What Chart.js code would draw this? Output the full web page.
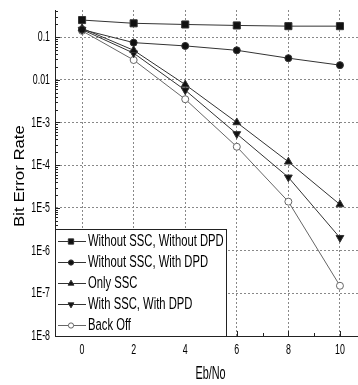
<!DOCTYPE html>
<html>
<head>
<meta charset="utf-8">
<script src="https://cdn.jsdelivr.net/npm/chart.js@4/dist/chart.umd.min.js"></script>
<style>
  html, body { margin: 0; padding: 0; background: #fff; }
  #ber-chart { display: block; }
</style>
</head>
<body>
<canvas id="ber-chart" width="358" height="385"></canvas>
<script>
// Eb/No points
var xValues = [0, 2, 4, 6, 8, 10];

// BER per configuration
var noSscNoDpd = [0.25, 0.21, 0.197, 0.187, 0.18, 0.18];
var noSscWithDpd = [0.15, 0.074, 0.062, 0.049, 0.032, 0.022];
var onlySsc = [0.16, 0.049, 0.0077, 0.001, 0.00012, 0.000012];
var sscWithDpd = [0.15, 0.042, 0.0057, 0.00054, 0.000052, 0.000002];
var backOff = [0.14, 0.029, 0.0035, 0.00027, 0.000014, 0.00000015];

var seriesNames = [
    "Without SSC, Without DPD",
    "Without SSC, With DPD",
    "Only SSC",
    "With SSC, With DPD",
    "Back Off"
];

var xTicks = [0, 2, 4, 6, 8, 10];
var xTickLabels = ["0", "2", "4", "6", "8", "10"];
var yTicks = [1e-8, 1e-7, 1e-6, 1e-5, 1e-4, 1e-3, 0.01, 0.1];
var yTickLabels = ["1E-8", "1E-7", "1E-6", "1E-5", "1E-4", "1E-3", "0.01", "0.1"];
var xTitle = "Eb/No";
var yTitle = "Bit Error Rate";

var baseFont = '"Liberation Sans", Arial, sans-serif';

// the original uses a narrow face, so squeeze Liberation Sans sideways
function drawText(ctx, text, x, y, align, size, sx, sy, angle) {
    ctx.save();
    ctx.translate(x, y);
    if (angle) ctx.rotate(angle);
    ctx.scale(sx, sy);
    ctx.font = size + 'px ' + baseFont;
    ctx.textAlign = align;
    ctx.textBaseline = 'middle';
    ctx.fillText(text, 0, 0);
    ctx.restore();
}

function toPoints(ys) {
    return xValues.map(function (x, i) { return { x: x, y: ys[i] }; });
}

function makeSeries(label, ys, style, rotation, radius, fill, stroke) {
    return {
        label: label,
        data: toPoints(ys),
        borderColor: stroke,
        borderWidth: 1,
        pointStyle: style,
        rotation: rotation,
        pointRadius: radius,
        pointBackgroundColor: fill,
        pointBorderColor: stroke,
        pointBorderWidth: 1,
        tension: 0
    };
}

// little tick marks pointing into the plot, majors and log minors
var innerTicks = {
    id: 'innerTicks',
    afterDatasetsDraw: function (chart) {
        var ctx = chart.ctx;
        var xs = chart.scales.x, ys = chart.scales.y;
        var area = chart.chartArea;
        ctx.save();
        ctx.strokeStyle = '#222';
        ctx.lineWidth = 1;
        ctx.beginPath();
        yTicks.forEach(function (d) {
            var py = Math.round(ys.getPixelForValue(d)) + 0.5;
            ctx.moveTo(area.left, py);
            ctx.lineTo(area.left + 5, py);
            for (var k = 2; k <= 9; k++) {
                var v = k * d;
                if (v > ys.max) break;
                var my = Math.round(ys.getPixelForValue(v)) + 0.5;
                ctx.moveTo(area.left, my);
                ctx.lineTo(area.left + 3, my);
            }
        });
        xTicks.forEach(function (t, i) {
            var px = Math.round(xs.getPixelForValue(t)) + 0.5;
            ctx.moveTo(px, area.bottom);
            ctx.lineTo(px, area.bottom - 5);
            if (i < xTicks.length - 1) {
                var mx = Math.round(xs.getPixelForValue((t + xTicks[i + 1]) / 2)) + 0.5;
                ctx.moveTo(mx, area.bottom);
                ctx.lineTo(mx, area.bottom - 3);
            }
        });
        ctx.stroke();
        ctx.restore();
    }
};

// tick labels and axis titles, drawn narrow like the source
var axisText = {
    id: 'axisText',
    afterDraw: function (chart) {
        var ctx = chart.ctx;
        var xs = chart.scales.x, ys = chart.scales.y;
        var area = chart.chartArea;
        ctx.save();
        ctx.fillStyle = '#000';
        yTicks.forEach(function (v, i) {
            drawText(ctx, yTickLabels[i], area.left - 5, ys.getPixelForValue(v), 'right', 13, 0.68, 1.15);
        });
        xTicks.forEach(function (v, i) {
            drawText(ctx, xTickLabels[i], xs.getPixelForValue(v), area.bottom + 14, 'center', 13, 0.68, 1.15);
        });
        drawText(ctx, xTitle, (area.left + area.right) / 2 + 4, area.bottom + 38, 'center', 16, 0.68, 1.1);
        drawText(ctx, yTitle, 20, (area.top + area.bottom) / 2 + 3, 'center', 15, 1.12, 1, -Math.PI / 2);
        ctx.restore();
    }
};

// boxed legend sitting in the lower left corner of the plot
var boxLegend = {
    id: 'boxLegend',
    afterDraw: function (chart) {
        var ctx = chart.ctx;
        var area = chart.chartArea;
        var w = 172, h = 107;
        var left = area.left, top = area.bottom - h;
        ctx.save();
        ctx.fillStyle = '#fff';
        ctx.fillRect(left, top, w, h);
        ctx.strokeStyle = '#222';
        ctx.lineWidth = 1;
        ctx.strokeRect(left + 0.5, top + 0.5, w - 1, h);
        chart.data.datasets.forEach(function (ds, i) {
            var y = Math.round(top + 12 + i * 21) + 0.5;
            ctx.strokeStyle = ds.borderColor;
            ctx.beginPath();
            ctx.moveTo(left + 3, y);
            ctx.lineTo(left + 31, y);
            ctx.stroke();
            ctx.fillStyle = ds.pointBackgroundColor;
            ctx.strokeStyle = ds.pointBorderColor;
            Chart.helpers.drawPoint(ctx, {
                pointStyle: ds.pointStyle,
                rotation: ds.rotation,
                radius: ds.pointRadius * 0.75,
                borderWidth: 1
            }, left + 16, y);
            ctx.fillStyle = '#000';
            drawText(ctx, ds.label, left + 33, y, 'left', 15, 0.75, 1.1);
        });
        ctx.restore();
    }
};

var berChart = new Chart(document.getElementById('ber-chart'), {
    type: 'line',
    data: {
        datasets: [
            makeSeries(seriesNames[0], noSscNoDpd, 'rect', 0, 5, '#111', '#333'),
            makeSeries(seriesNames[1], noSscWithDpd, 'circle', 0, 3.5, '#111', '#333'),
            makeSeries(seriesNames[2], onlySsc, 'triangle', 0, 4.5, '#111', '#333'),
            makeSeries(seriesNames[3], sscWithDpd, 'triangle', 180, 4.5, '#111', '#333'),
            makeSeries(seriesNames[4], backOff, 'circle', 0, 3.5, '#fff', '#666')
        ]
    },
    options: {
        responsive: false,
        animation: false,
        devicePixelRatio: 1,
        layout: { autoPadding: false, padding: { top: 10, right: 0, left: 0, bottom: 0 } },
        plugins: {
            legend: { display: false },
            tooltip: { enabled: false }
        },
        scales: {
            x: {
                type: 'linear',
                min: -1.05,
                max: 10.7,
                afterBuildTicks: function (scale) {
                    scale.ticks = xTicks.map(function (v) { return { value: v }; });
                },
                afterFit: function (scale) { scale.height = 49; },
                grid: { color: '#888', lineWidth: 1, drawTicks: false },
                border: { display: true, color: '#222', width: 1, dash: [2, 2] },
                ticks: { display: false }
            },
            y: {
                type: 'logarithmic',
                min: 1e-8,
                max: 0.43,
                afterBuildTicks: function (scale) {
                    scale.ticks = yTicks.map(function (v) { return { value: v }; });
                },
                afterFit: function (scale) { scale.width = 55; },
                grid: { color: '#888', lineWidth: 1, drawTicks: false },
                border: { display: true, color: '#222', width: 1, dash: [2, 2] },
                ticks: { display: false }
            }
        }
    },
    plugins: [innerTicks, axisText, boxLegend]
});
</script>
</body>
</html>
